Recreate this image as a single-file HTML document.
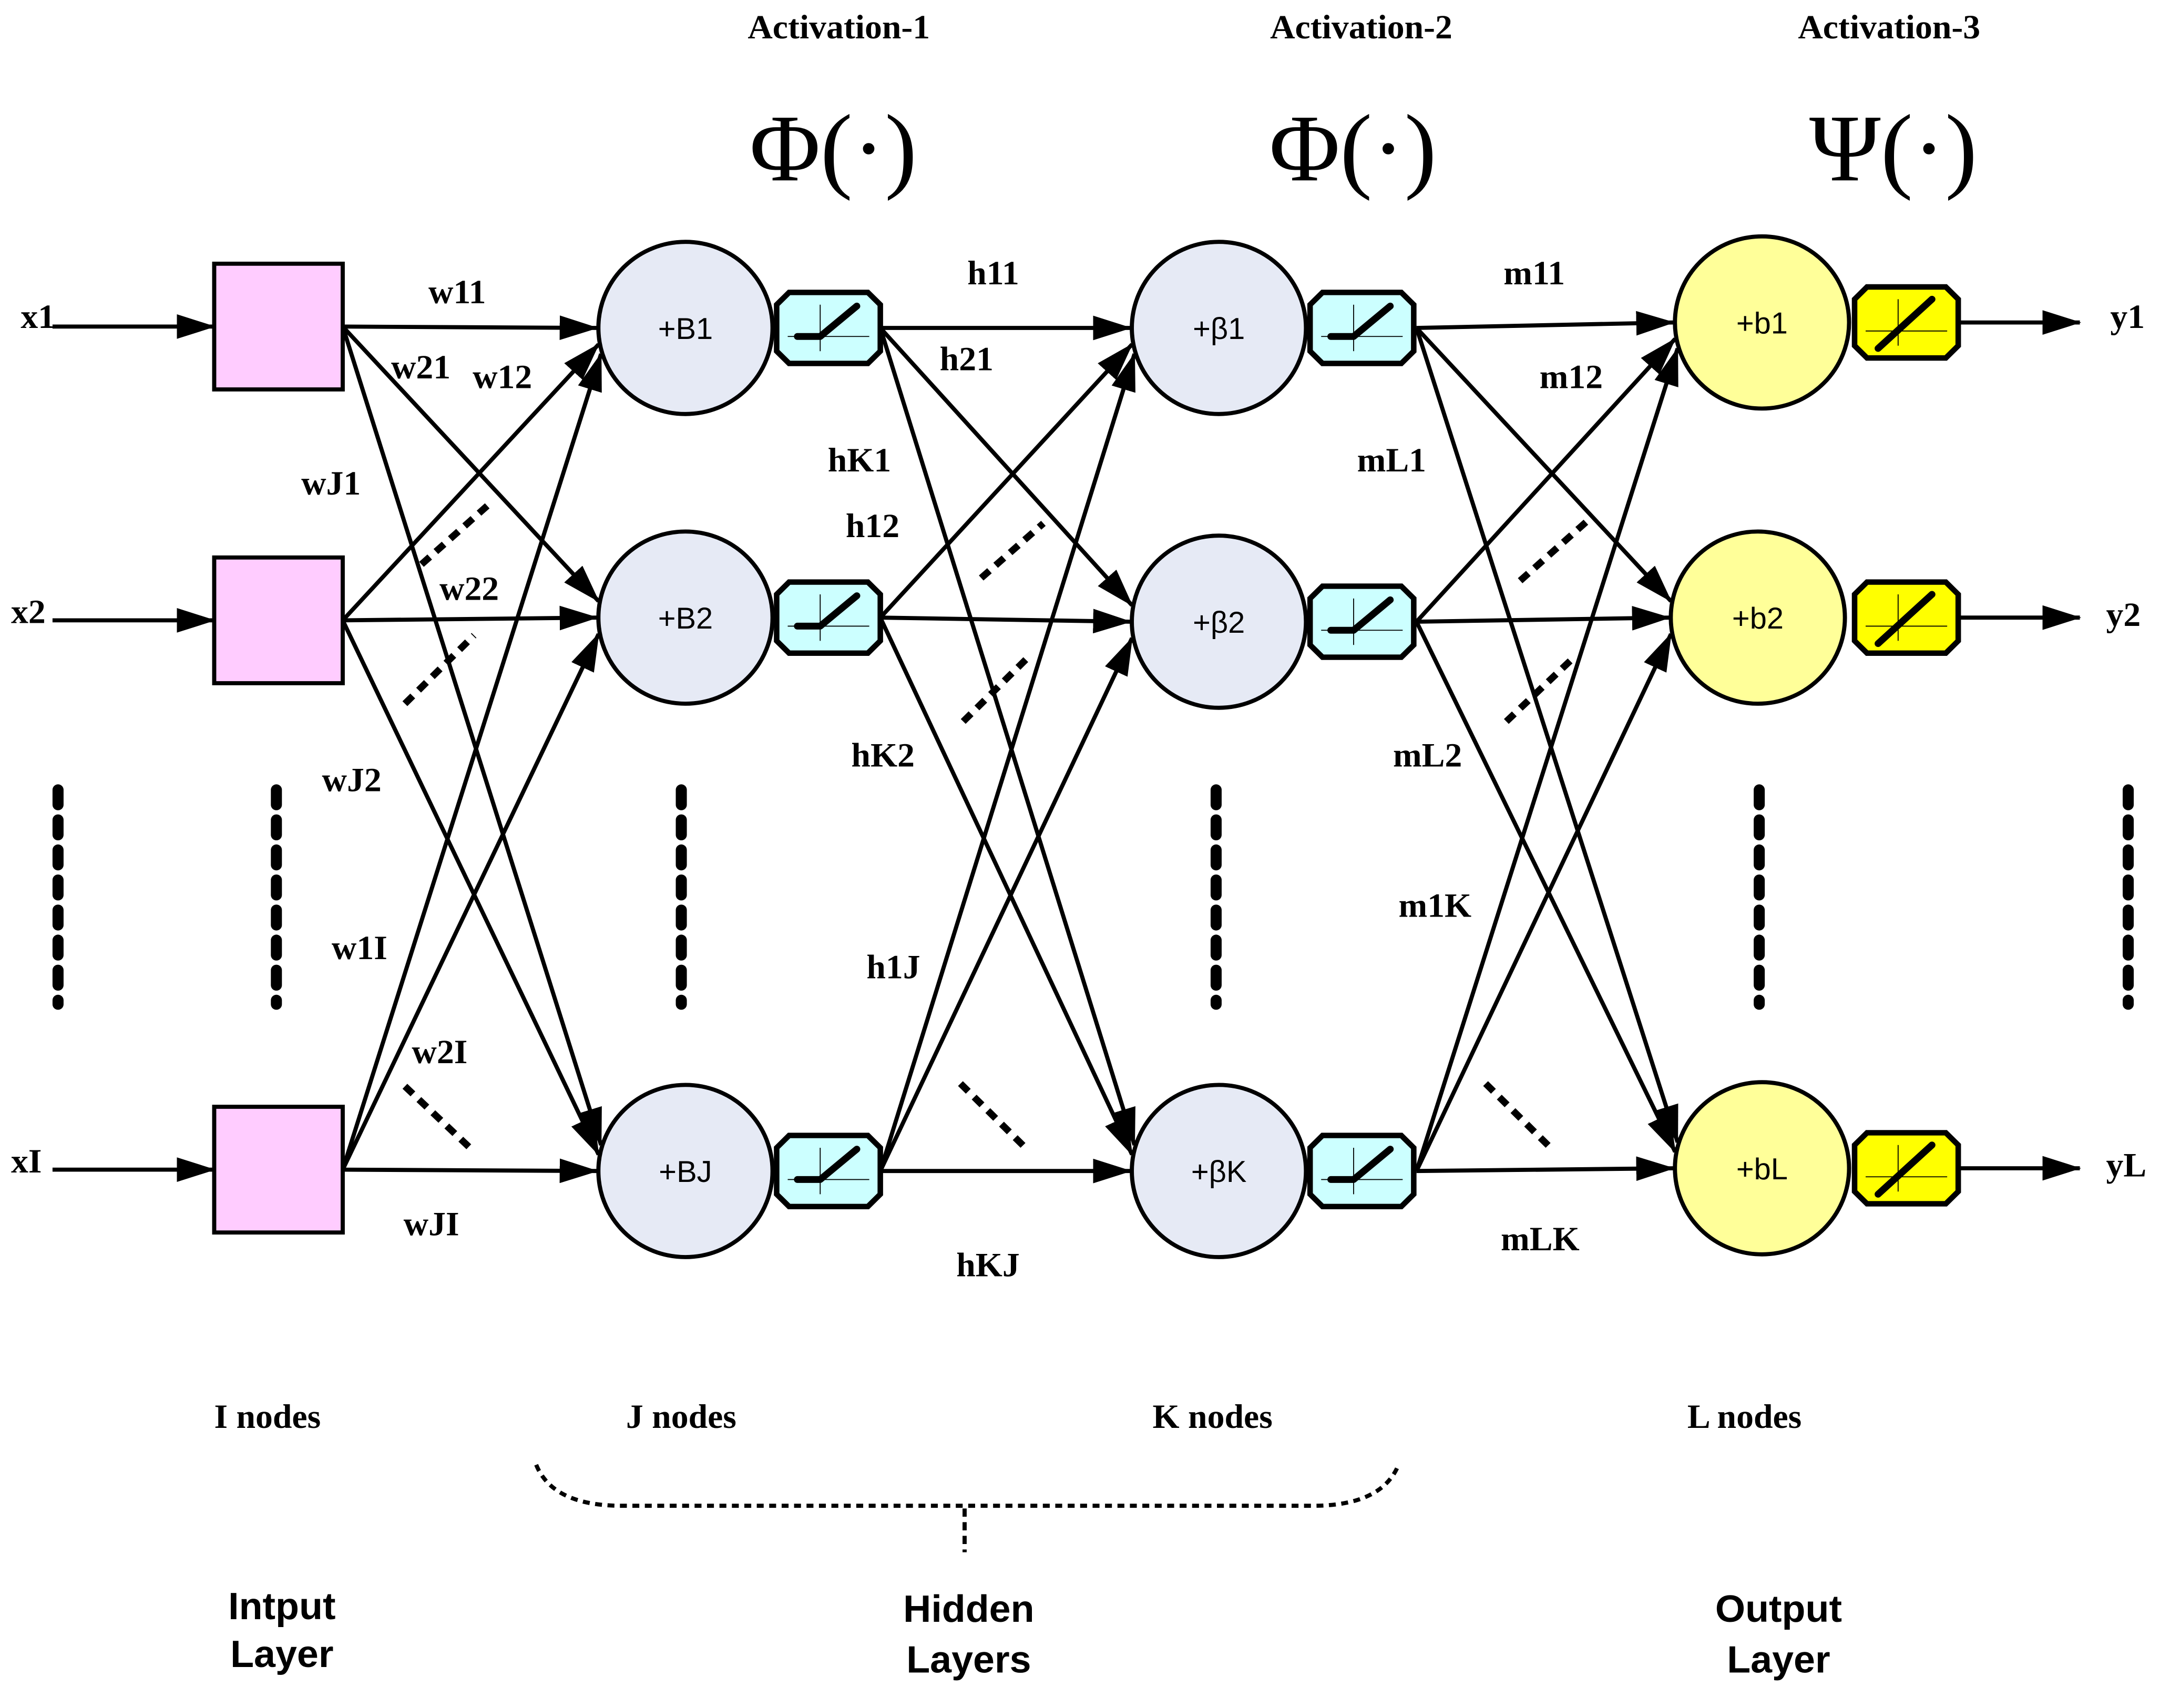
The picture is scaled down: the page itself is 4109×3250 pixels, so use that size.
<!DOCTYPE html>
<html><head><meta charset="utf-8"><style>
html,body{margin:0;padding:0;background:#fff;}
svg{display:block;}
text{font-family:"Liberation Serif",serif;font-weight:bold;}
.s{font-family:"Liberation Sans",sans-serif;font-weight:normal;}
</style></head><body>
<svg id="g" width="4109" height="3250" viewBox="0 0 1563 1250" preserveAspectRatio="none" xmlns="http://www.w3.org/2000/svg">
<defs>
<marker id="b" markerWidth="28" markerHeight="18" refX="27" refY="9" orient="auto" markerUnits="userSpaceOnUse"><path d="M0,0 L28,9 L0,18 z" fill="#000"/></marker></defs>
<g id="L" stroke="#000" stroke-width="3" fill="none"></g>
<g id="N"></g>
<g font-size="25" text-anchor="middle">
<text x="607" y="28">Activation-1</text><text x="985" y="28">Activation-2</text><text x="1367" y="28">Activation-3</text>
</g>
<g font-size="70" text-anchor="middle">
<text x="603" y="132" style="font-weight:normal">Φ(·)</text><text x="979" y="132" style="font-weight:normal">Φ(·)</text><text x="1370" y="132" style="font-weight:normal">Ψ(·)</text>
</g>
<g font-size="25">
<text x="15" y="240">x1</text><text x="8" y="456">x2</text><text x="8" y="858">xI</text>
<text x="1527" y="240">y1</text><text x="1524" y="458">y2</text><text x="1524" y="861">yL</text>
<text x="310" y="222">w11</text><text x="283" y="277">w21</text><text x="342" y="284">w12</text><text x="218" y="362">wJ1</text>
<text x="318" y="439">w22</text><text x="233" y="579">wJ2</text><text x="240" y="702">w1I</text><text x="298" y="778">w2I</text><text x="292" y="904">wJI</text>
<text x="700" y="208">h11</text><text x="680" y="271">h21</text><text x="599" y="345">hK1</text><text x="612" y="393">h12</text>
<text x="616" y="561">hK2</text><text x="627" y="716">h1J</text><text x="692" y="934">hKJ</text>
<text x="1088" y="208">m11</text><text x="1114" y="284">m12</text><text x="982" y="345">mL1</text><text x="1008" y="561">mL2</text>
<text x="1012" y="671">m1K</text><text x="1086" y="915">mLK</text>
<text x="155" y="1045">I nodes</text><text x="453" y="1045">J nodes</text><text x="834" y="1045">K nodes</text><text x="1221" y="1045">L nodes</text>
</g>
<g font-size="28" text-anchor="middle">
<text class="s" x="204" y="1185" style="font-weight:bold">Intput</text><text class="s" x="204" y="1220" style="font-weight:bold">Layer</text>
<text class="s" x="701" y="1187" style="font-weight:bold">Hidden</text><text class="s" x="701" y="1224" style="font-weight:bold">Layers</text>
<text class="s" x="1287" y="1187" style="font-weight:bold">Output</text><text class="s" x="1287" y="1224" style="font-weight:bold">Layer</text>
</g>
<path d="M388,1072 Q400,1102 450,1102 L950,1102 Q1000,1102 1012,1072" stroke="#000" stroke-width="3" fill="none" stroke-dasharray="5,4"/>
<path d="M698,1104 L698,1136" stroke="#000" stroke-width="3" stroke-dasharray="6,4"/>
</svg>
<script>
const NS="http://www.w3.org/2000/svg";
const L=document.getElementById('L'),N=document.getElementById('N');
function el(p,t,a){const e=document.createElementNS(NS,t);for(const k in a)e.setAttribute(k,a[k]);p.appendChild(e);return e;}
function line(x1,y1,x2,y2,arrow){const e=el(L,'line',{x1,y1,x2,y2});if(arrow)e.setAttribute('marker-end','url(#b)');}
const inY=[239,454,856];
const h1=[[496,240],[496,452],[496,857]];
const h2=[[882,240],[882,455],[882,857]];
const out=[[1275,236],[1272,452],[1275,855]];
const R=63;
function conn(srcs,tgts){srcs.forEach((s,i)=>tgts.forEach((t,j)=>{const k=j-i;let off=0;if(k!==0)off=-Math.sign(k)*(Math.abs(k)>1?19:12);const ty=t[1]+off;const tx=t[0]-Math.sqrt(R*R-off*off)-1;line(s[0],s[1],tx,ty,true);}));}
conn(inY.map(y=>[248,y]),h1);
conn(h1.map(c=>[637,c[1]]),h2);
conn(h2.map(c=>[1025,c[1]]),out);
inY.forEach(y=>line(38,y,155,y,true));
out.forEach(c=>line(1417,c[1],1505,c[1],true));
[[305,413,355,368],[293,515,343,465],[293,795,340,840],[710,423,755,383],[697,528,745,480],[695,793,742,840],[1100,425,1150,380],[1090,528,1140,480],[1075,793,1122,840]].forEach(d=>{el(L,'line',{x1:d[0],y1:d[1],x2:d[2],y2:d[3],'stroke-width':5,'stroke-dasharray':'8,6'});});
[42,200,493,880,1273,1540].forEach(x=>el(L,'line',{x1:x,y1:578,x2:x,y2:735,'stroke-width':8,'stroke-dasharray':'11,11','stroke-linecap':'round'}));
inY.forEach(y=>el(N,'rect',{x:155,y:y-46,width:93,height:92,fill:'#ffccff',stroke:'#000','stroke-width':3}));
function circ(c,fill,lab){el(N,'circle',{cx:c[0],cy:c[1],r:R,fill,stroke:'#000','stroke-width':3});const t=el(N,'text',{x:c[0],y:c[1]+8,'text-anchor':'middle','font-size':22,class:'s'});t.textContent=lab;}
function box(x,y,fill,lin){const w=75,h=52,c=9,x0=x,y0=y-h/2;
el(N,'path',{d:`M${x0+c},${y0} L${x0+w-c},${y0} L${x0+w},${y0+c} L${x0+w},${y0+h-c} L${x0+w-c},${y0+h} L${x0+c},${y0+h} L${x0},${y0+h-c} L${x0},${y0+c} Z`,fill,stroke:'#000','stroke-width':4});
el(N,'line',{x1:x0+8,y1:y0+h*0.62,x2:x0+w-8,y2:y0+h*0.62,stroke:'#000','stroke-width':0.7});
el(N,'line',{x1:x0+w*0.42,y1:y0+9,x2:x0+w*0.42,y2:y0+h-9,stroke:'#000','stroke-width':0.7});
if(lin)el(N,'line',{x1:x0+17,y1:y0+h-7,x2:x0+w-19,y2:y0+9,stroke:'#000','stroke-width':5,'stroke-linecap':'round'});
else el(N,'path',{d:`M${x0+15},${y0+h*0.62} L${x0+w*0.42},${y0+h*0.62} L${x0+w-17},${y0+10}`,fill:'none',stroke:'#000','stroke-width':5,'stroke-linecap':'round','stroke-linejoin':'round'});}
['+B1','+B2','+BJ'].forEach((l,i)=>{circ(h1[i],'#e6eaf5',l);box(562,h1[i][1],'#ccffff',false);});
['+β1','+β2','+βK'].forEach((l,i)=>{circ(h2[i],'#e6eaf5',l);box(948,h2[i][1],'#ccffff',false);});
['+b1','+b2','+bL'].forEach((l,i)=>{circ(out[i],'#ffff99',l);box(1342,out[i][1],'#ffff00',true);});
</script>
</body></html>
